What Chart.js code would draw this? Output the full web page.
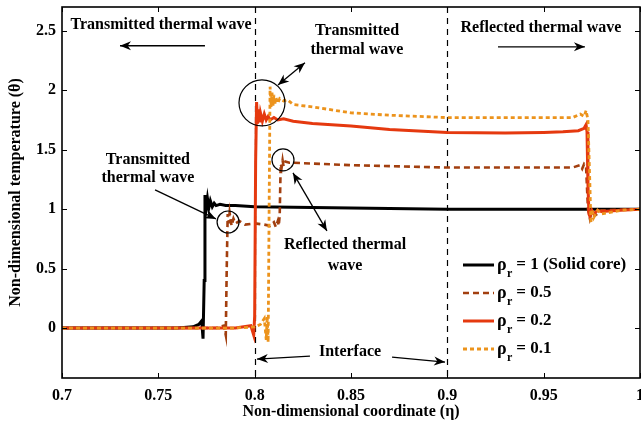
<!DOCTYPE html>
<html>
<head>
<meta charset="utf-8">
<script src="https://cdn.jsdelivr.net/npm/chart.js@4.4.1/dist/chart.umd.min.js"></script>
<style>
  html, body { margin: 0; padding: 0; background: #fff; }
  #wrap { width: 641px; height: 424px; }
</style>
</head>
<body>
<div id="wrap"><canvas id="chart" width="641" height="424"></canvas></div>
<script>
// axis ticks
const xTicks = [0.7, 0.75, 0.8, 0.85, 0.9, 0.95, 1];
const yTicks = [0, 0.5, 1, 1.5, 2, 2.5];

// rho_r = 1 (solid core)
const etaSolid = [0.7, 0.76, 0.768, 0.771, 0.7725, 0.7732, 0.7738, 0.7742, 0.7748, 0.7755, 0.7762, 0.777, 0.778, 0.779, 0.780, 0.782, 0.785, 0.79, 0.80, 0.85, 0.90, 0.95, 0.97, 0.975, 1.0];
const thetaSolid = [0, 0, 0.01, 0.03, 0.06, -0.09, 0.4, 1.12, 1.0, 1.09, 1.01, 1.07, 1.02, 1.05, 1.03, 1.04, 1.03, 1.03, 1.02, 1.01, 1.0, 1.0, 1.0, 1.0, 1.0];

// rho_r = 0.5
const etaHalf = [0.7, 0.78, 0.784, 0.785, 0.7855, 0.786, 0.7865, 0.787, 0.788, 0.789, 0.790, 0.792, 0.795, 0.80, 0.805, 0.808, 0.810, 0.811, 0.812, 0.8125, 0.813, 0.8135, 0.814, 0.8145, 0.815, 0.816, 0.818, 0.82, 0.85, 0.9, 0.95, 0.965, 0.969, 0.970, 0.971, 0.972, 0.973, 0.974, 0.975, 0.977, 0.98, 1.0];
const thetaHalf = [0, 0, 0.02, -0.06, 0.5, 0.96, 0.88, 0.97, 0.86, 0.92, 0.88, 0.90, 0.87, 0.88, 0.87, 0.86, 0.89, 0.85, 0.9, 0.86, 0.95, 1.38, 1.35, 1.41, 1.36, 1.40, 1.39, 1.39, 1.37, 1.35, 1.35, 1.35, 1.37, 1.34, 1.38, 1.36, 1.0, 0.92, 0.98, 0.95, 0.99, 1.0];

// rho_r = 0.2
const etaTwo = [0.7, 0.79, 0.798, 0.7995, 0.8, 0.8005, 0.801, 0.8015, 0.802, 0.8025, 0.803, 0.804, 0.805, 0.806, 0.807, 0.808, 0.810, 0.812, 0.815, 0.82, 0.83, 0.85, 0.87, 0.9, 0.93, 0.95, 0.96, 0.968, 0.971, 0.972, 0.9725, 0.973, 0.9735, 0.974, 0.975, 0.976, 0.978, 0.98, 0.99, 1.0];
const thetaTwo = [0, 0, 0.02, -0.06, 0.1, 1.4, 1.90, 1.72, 1.84, 1.73, 1.81, 1.74, 1.80, 1.75, 1.78, 1.75, 1.77, 1.75, 1.76, 1.74, 1.72, 1.70, 1.67, 1.645, 1.64, 1.645, 1.65, 1.66, 1.68, 1.71, 1.65, 1.2, 0.96, 0.94, 0.99, 0.96, 0.99, 0.98, 0.99, 1.0];

// rho_r = 0.1
const etaOne = [0.7, 0.79, 0.8, 0.803, 0.805, 0.806, 0.8065, 0.807, 0.8075, 0.808, 0.8085, 0.809, 0.8095, 0.810, 0.8105, 0.811, 0.812, 0.813, 0.815, 0.817, 0.82, 0.83, 0.85, 0.87, 0.9, 0.93, 0.95, 0.965, 0.969, 0.971, 0.972, 0.973, 0.974, 0.9745, 0.975, 0.976, 0.978, 0.98, 0.99, 1.0];
const thetaOne = [0, 0, 0.01, 0.03, 0.08, -0.1, 0.1, -0.12, 1.0, 2.03, 1.86, 1.98, 1.87, 1.96, 1.88, 1.94, 1.89, 1.93, 1.91, 1.92, 1.88, 1.86, 1.81, 1.79, 1.77, 1.77, 1.77, 1.77, 1.80, 1.78, 1.83, 1.75, 1.2, 0.88, 1.0, 0.93, 0.99, 0.96, 0.99, 1.0];

const legendValues = ['1 (Solid core)', '0.5', '0.2', '0.1'];

const FONT = "'Liberation Serif', 'Times New Roman', serif";
const COLORS = {
  solid: '#000000',
  half:  '#a23f0f',
  two:   '#e5390f',
  one:   '#ec931c',
};

const pts = (xs, ys) => xs.map((x, i) => ({ x, y: ys[i] }));

// notes drawn in data coordinates
const notes = {
  texts: [
    { x: 0.7514, y: 2.55, t: 'Transmitted thermal wave' },
    { x: 0.9486, y: 2.525, t: 'Reflected thermal wave' },
    { x: 0.8531, y: 2.50, t: 'Transmitted' },
    { x: 0.8531, y: 2.34, t: 'thermal wave' },
    { x: 0.7446, y: 1.414, t: 'Transmitted' },
    { x: 0.7446, y: 1.263, t: 'thermal wave' },
    { x: 0.8469, y: 0.699, t: 'Reflected thermal' },
    { x: 0.8469, y: 0.522, t: 'wave' },
    { x: 0.8495, y: -0.202, t: 'Interface' },
  ],
  arrows: [
    { x1: 0.7742, y1: 2.374, x2: 0.7301, y2: 2.374, both: false },
    { x1: 0.9263, y1: 2.365, x2: 0.9714, y2: 2.365, both: false },
    { x1: 0.8121, y1: 2.045, x2: 0.8261, y2: 2.231, both: true },
    { x1: 0.7483, y1: 1.162, x2: 0.7799, y2: 0.918, both: false },
    { x1: 0.8199, y1: 1.305, x2: 0.8375, y2: 0.817, both: true },
    { x1: 0.8287, y1: -0.236, x2: 0.8012, y2: -0.261, both: false },
    { x1: 0.8713, y1: -0.244, x2: 0.8988, y2: -0.286, both: false },
  ],
  circles: [
    { x: 0.8038, y: 1.894, r: 23 },
    { x: 0.8147, y: 1.414, r: 11 },
    { x: 0.7862, y: 0.892, r: 11 },
  ],
  interfaces: [0.8, 0.9],
};

function arrowHead(ctx, x1, y1, x2, y2) {
  const a = Math.atan2(y2 - y1, x2 - x1);
  const len = 11, w = 4.5;
  ctx.beginPath();
  ctx.moveTo(x2, y2);
  ctx.lineTo(x2 - len * Math.cos(a) + w * Math.sin(a), y2 - len * Math.sin(a) - w * Math.cos(a));
  ctx.lineTo(x2 - len * 0.7 * Math.cos(a), y2 - len * 0.7 * Math.sin(a));
  ctx.lineTo(x2 - len * Math.cos(a) - w * Math.sin(a), y2 - len * Math.sin(a) + w * Math.cos(a));
  ctx.closePath();
  ctx.fill();
}

const framePlugin = {
  id: 'frame',
  beforeDatasetsDraw(chart) {
    const { ctx, chartArea: a, scales: { x } } = chart;
    ctx.save();
    ctx.strokeStyle = '#000';
    ctx.lineWidth = 1.2;
    ctx.setLineDash([6, 5]);
    notes.interfaces.forEach(v => {
      const px = Math.round(x.getPixelForValue(v)) + 0.5;
      ctx.beginPath();
      ctx.moveTo(px, a.top);
      ctx.lineTo(px, a.bottom);
      ctx.stroke();
    });
    ctx.restore();
  },
  afterDatasetsDraw(chart) {
    const { ctx, chartArea: a, scales: { x, y } } = chart;
    ctx.save();

    // inward ticks on all sides
    ctx.strokeStyle = '#000';
    ctx.lineWidth = 1;
    const tl = 5;
    xTicks.forEach(v => {
      const px = Math.round(x.getPixelForValue(v)) + 0.5;
      ctx.beginPath();
      ctx.moveTo(px, a.bottom); ctx.lineTo(px, a.bottom - tl);
      ctx.moveTo(px, a.top); ctx.lineTo(px, a.top + tl);
      ctx.stroke();
    });
    yTicks.forEach(v => {
      const py = Math.round(y.getPixelForValue(v)) + 0.5;
      ctx.beginPath();
      ctx.moveTo(a.left, py); ctx.lineTo(a.left + tl, py);
      ctx.moveTo(a.right, py); ctx.lineTo(a.right - tl, py);
      ctx.stroke();
    });

    // box
    ctx.lineWidth = 1.6;
    ctx.strokeRect(a.left, a.top, a.right - a.left, a.bottom - a.top);

    // circles
    ctx.lineWidth = 1.2;
    notes.circles.forEach(c => {
      ctx.beginPath();
      ctx.arc(x.getPixelForValue(c.x), y.getPixelForValue(c.y), c.r, 0, Math.PI * 2);
      ctx.stroke();
    });

    // arrows
    ctx.fillStyle = '#000';
    ctx.lineWidth = 1.3;
    notes.arrows.forEach(ar => {
      const x1 = x.getPixelForValue(ar.x1), y1 = y.getPixelForValue(ar.y1);
      const x2 = x.getPixelForValue(ar.x2), y2 = y.getPixelForValue(ar.y2);
      ctx.beginPath();
      ctx.moveTo(x1, y1);
      ctx.lineTo(x2, y2);
      ctx.stroke();
      arrowHead(ctx, x1, y1, x2, y2);
      if (ar.both) arrowHead(ctx, x2, y2, x1, y1);
    });

    // texts
    ctx.font = 'bold 16px ' + FONT;
    ctx.textAlign = 'center';
    ctx.textBaseline = 'middle';
    notes.texts.forEach(n => {
      ctx.fillText(n.t, x.getPixelForValue(n.x), y.getPixelForValue(n.y));
    });

    // legend
    const sets = chart.data.datasets;
    const lx = a.right - 177;
    const ly = a.bottom - 113;
    legendValues.forEach((lab, i) => {
      const ds = sets[i];
      const py = ly + i * 28;
      ctx.save();
      ctx.strokeStyle = ds.borderColor;
      ctx.lineWidth = ds.borderWidth;
      ctx.setLineDash(ds.borderDash || []);
      ctx.beginPath();
      ctx.moveTo(lx, py);
      ctx.lineTo(lx + 31, py);
      ctx.stroke();
      ctx.restore();
      ctx.textAlign = 'left';
      ctx.font = 'bold 18px ' + FONT;
      ctx.fillText('\u03C1', lx + 34, py);
      ctx.font = 'bold 12px ' + FONT;
      ctx.fillText('r', lx + 44, py + 9);
      ctx.font = 'bold 17px ' + FONT;
      ctx.fillText(' = ' + lab, lx + 49, py);
    });

    ctx.restore();
  },
};

const tickFont = { family: FONT, size: 16, weight: 'bold' };
const titleFont = { family: FONT, size: 16, weight: 'bold' };

new Chart(document.getElementById('chart').getContext('2d'), {
  type: 'line',
  data: {
    datasets: [
      { label: 'rho_r = 1 (Solid core)', data: pts(etaSolid, thetaSolid), borderColor: COLORS.solid, borderWidth: 3, order: 4 },
      { label: 'rho_r = 0.5', data: pts(etaHalf, thetaHalf), borderColor: COLORS.half, borderWidth: 2.6, borderDash: [6, 4], order: 3 },
      { label: 'rho_r = 0.2', data: pts(etaTwo, thetaTwo), borderColor: COLORS.two, borderWidth: 3, order: 2 },
      { label: 'rho_r = 0.1', data: pts(etaOne, thetaOne), borderColor: COLORS.one, borderWidth: 2.8, borderDash: [4, 3], order: 1 },
    ],
  },
  options: {
    responsive: false,
    animation: false,
    events: [],
    layout: { padding: { top: 7, right: 1, left: 0, bottom: 0 } },
    elements: { point: { radius: 0 }, line: { tension: 0, fill: false, borderCapStyle: 'butt' } },
    plugins: { legend: { display: false }, tooltip: { enabled: false } },
    scales: {
      x: {
        type: 'linear',
        min: 0.7,
        max: 1,
        afterBuildTicks: s => { s.ticks = xTicks.map(v => ({ value: v })); },
        afterFit: s => { s.height = 46; s.paddingLeft = 0; s.paddingRight = 0; },
        grid: { display: false, drawTicks: false },
        border: { display: false },
        ticks: { font: tickFont, color: '#000', padding: 8, maxRotation: 0, callback: v => String(v) },
        title: { display: true, text: 'Non-dimensional coordinate (\u03B7)', font: titleFont, color: '#000', padding: { top: 0, bottom: 3 } },
      },
      y: {
        type: 'linear',
        min: -0.42,
        max: 2.7,
        afterBuildTicks: s => { s.ticks = yTicks.map(v => ({ value: v })); },
        afterFit: s => { s.width = 62; s.paddingTop = 0; s.paddingBottom = 0; },
        grid: { display: false, drawTicks: false },
        border: { display: false },
        ticks: { font: tickFont, color: '#000', padding: 6, callback: v => String(v) },
        title: { display: true, text: 'Non-dimensional temperature (\u03B8)', font: titleFont, color: '#000', padding: { top: 6, bottom: 0 } },
      },
    },
  },
  plugins: [framePlugin],
});
</script>
</body>
</html>
